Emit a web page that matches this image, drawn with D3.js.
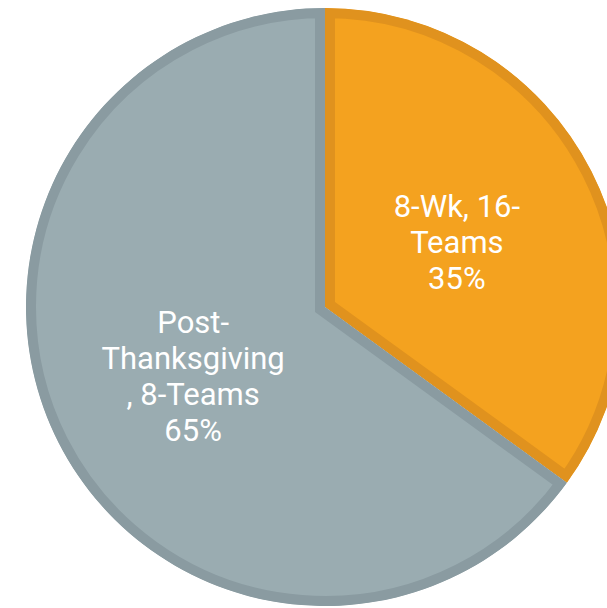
<!DOCTYPE html>
<html>
<head>
<meta charset="utf-8">
<script src="https://cdn.jsdelivr.net/npm/d3@7"></script>
<style>
  html, body { margin: 0; padding: 0; background: #fff; }
  svg { display: block; }
</style>
</head>
<body>
<svg id="chart" width="607" height="608"></svg>
<script>
const categories = ["8-Wk, 16-Teams", "Post-Thanksgiving, 8-Teams"];
const labelLines = [["8-Wk, 16-", "Teams", "35%"], ["Post-", "Thanksgiving", ", 8-Teams", "65%"]];
const values = [35, 65];
const fills = ["#F4A21F", "#9AACB1"];
const strokes = ["#E0921E", "#8A9BA1"];

const svg = d3.select("#chart");
const cx = 325, cy = 307, r = 299;
const g = svg.append("g").attr("transform", `translate(${cx},${cy})`);

const pie = d3.pie().sort(null).value(d => d.value);
const data = pie(categories.map((c, i) => ({ name: c, value: values[i], i })));
const arc = d3.arc().innerRadius(0).outerRadius(r);
const labelArc = d3.arc().innerRadius(148).outerRadius(148);

const defs = svg.append("defs");
data.forEach((d, i) => {
  defs.append("clipPath").attr("id", "clip" + i)
    .append("path").attr("d", arc(d));
});

g.selectAll("path.slice").data(data).join("path")
  .attr("class", "slice")
  .attr("d", arc)
  .attr("fill", d => fills[d.data.i])
  .attr("stroke", d => strokes[d.data.i])
  .attr("stroke-width", 20)
  .attr("stroke-linejoin", "miter")
  .attr("clip-path", (d, i) => `url(#clip${i})`);

const lh = 36;
data.forEach((d, i) => {
  const [lx, ly] = labelArc.centroid(d);
  const lines = labelLines[i];
  const t = g.append("text")
    .attr("text-anchor", "middle")
    .attr("font-family", "Roboto, 'Liberation Sans', sans-serif")
    .attr("font-size", 31)
    .attr("fill", "#ffffff");
  lines.forEach((ln, k) => {
    t.append("tspan")
      .attr("x", lx)
      .attr("y", ly + (k - (lines.length - 1) / 2) * lh + 13)
      .text(ln);
  });
});
</script>
</body>
</html>
